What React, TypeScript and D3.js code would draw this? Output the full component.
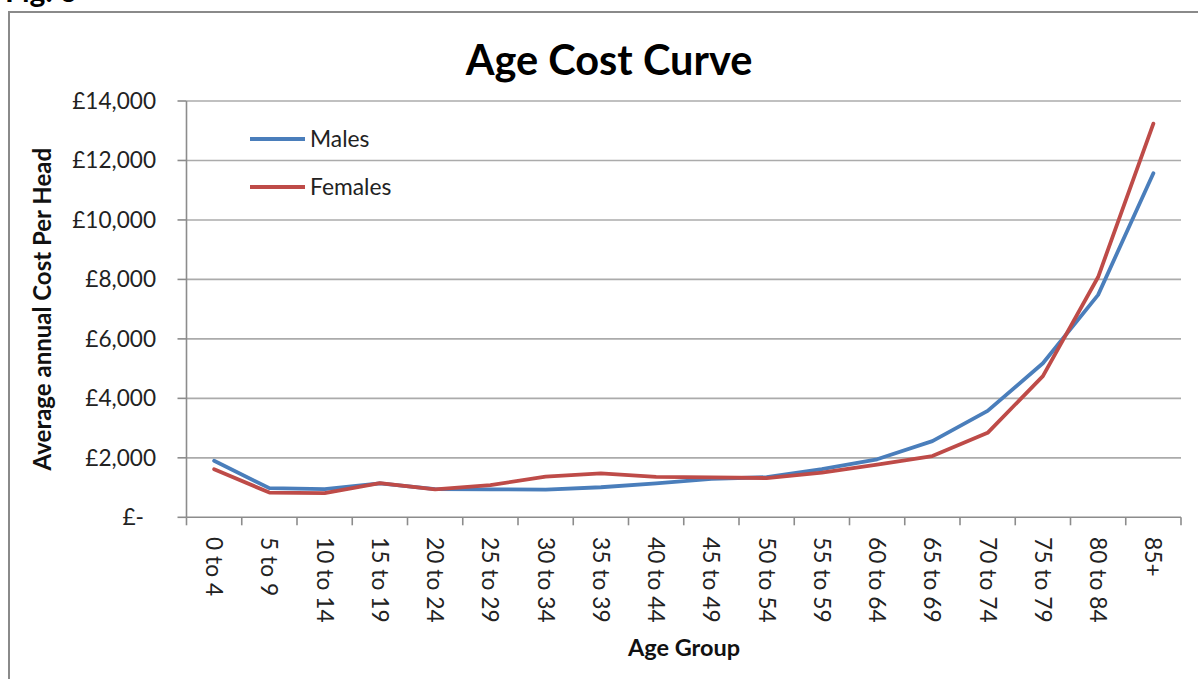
import React from "react";
import * as d3 from "d3";

// Age bands along the category axis
const ageGroups = [
  "0 to 4", "5 to 9", "10 to 14", "15 to 19", "20 to 24", "25 to 29",
  "30 to 34", "35 to 39", "40 to 44", "45 to 49", "50 to 54", "55 to 59",
  "60 to 64", "65 to 69", "70 to 74", "75 to 79", "80 to 84", "85+",
];

// Average annual cost per head (£)
const males = [
  1900, 980, 950, 1140, 950, 940, 930, 1010, 1140, 1290, 1350, 1620,
  1950, 2560, 3580, 5180, 7480, 11570,
];
const females = [
  1620, 830, 810, 1150, 940, 1080, 1370, 1480, 1360, 1340, 1320, 1500,
  1770, 2060, 2840, 4750, 8080, 13240,
];

const yTicks = [0, 2000, 4000, 6000, 8000, 10000, 12000, 14000];

const seriesList = [
  { name: "Males", values: males, color: "#4a7ebb" },
  { name: "Females", values: females, color: "#be4b48" },
];

const W = 1198;
const H = 679;
const plot = { left: 186.5, right: 1181, top: 101, bottom: 517.3 };
const FONT = "Lato, 'Open Sans', sans-serif";

export default function App() {
  const x = d3
    .scaleBand<string>()
    .domain(ageGroups)
    .range([plot.left, plot.right])
    .paddingInner(0)
    .paddingOuter(0);
  const y = d3.scaleLinear().domain([0, 14000]).range([plot.bottom, plot.top]);
  const cx = (c: string) => (x(c) as number) + x.bandwidth() / 2;

  const line = d3
    .line<number>()
    .x((_, i) => cx(ageGroups[i]))
    .y((v) => y(v))
    .curve(d3.curveLinear);

  const fmt = d3.format(",");
  const tickBoundaries = ageGroups.map((c) => x(c) as number).concat([plot.right]);

  return (
    <svg
      width={W}
      height={H}
      style={{ position: "absolute", left: 0, top: 0, background: "#fff" }}
      fontFamily={FONT}
    >
      <rect x={0} y={0} width={W} height={H} fill="#fff" />
      {/* figure caption, mostly above the frame */}
      <text x={5} y={2} fontSize={30} fontWeight="bold" fill="#000">
        Fig. 6
      </text>
      {/* chart frame */}
      <rect x={9} y={12} width={1220} height={700} fill="#fff" stroke="#8a8a8a" strokeWidth={2} />

      {/* title */}
      <text x={609} y={75} textAnchor="middle" fontSize={41.5} fontWeight="bold" fill="#000">
        Age Cost Curve
      </text>

      {/* horizontal gridlines */}
      {yTicks.slice(1).map((t) => (
        <line
          key={"g" + t}
          x1={plot.left}
          x2={plot.right}
          y1={y(t)}
          y2={y(t)}
          stroke="#ababab"
          strokeWidth={1.6}
        />
      ))}

      {/* value axis */}
      <line x1={plot.left} x2={plot.left} y1={plot.top} y2={plot.bottom} stroke="#8c8c8c" strokeWidth={1.6} />
      {yTicks.map((t) => (
        <g key={"yt" + t}>
          <line x1={plot.left - 9} x2={plot.left} y1={y(t)} y2={y(t)} stroke="#8c8c8c" strokeWidth={1.6} />
          <text
            x={t === 0 ? 144 : 156}
            y={y(t)}
            dy="0.35em"
            textAnchor="end"
            fontSize={22.6}
            fill="#222"
          >
            {t === 0 ? "£-" : "£" + fmt(t)}
          </text>
        </g>
      ))}

      {/* category axis */}
      <line x1={plot.left} x2={plot.right} y1={plot.bottom} y2={plot.bottom} stroke="#8c8c8c" strokeWidth={1.6} />
      {tickBoundaries.map((bx, i) => (
        <line
          key={"xt" + i}
          x1={bx}
          x2={bx}
          y1={plot.bottom}
          y2={plot.bottom + 8}
          stroke="#8c8c8c"
          strokeWidth={1.6}
        />
      ))}
      {ageGroups.map((c) => (
        <text
          key={"xl" + c}
          transform={`translate(${cx(c)},537) rotate(90)`}
          dy="0.35em"
          textAnchor="start"
          fontSize={22.8}
          fill="#222"
        >
          {c}
        </text>
      ))}

      {/* axis titles */}
      <text x={684} y={656} textAnchor="middle" fontSize={23.5} fontWeight="bold" fill="#111">
        Age Group
      </text>
      <text
        transform={`translate(42.5,${(plot.top + plot.bottom) / 2}) rotate(-90)`}
        dy="0.35em"
        textAnchor="middle"
        fontSize={24}
        fontWeight="bold"
        fill="#111"
      >
        Average annual Cost Per Head
      </text>

      {/* series */}
      {seriesList.map((s) => (
        <path
          key={s.name}
          d={line(s.values) as string}
          fill="none"
          stroke={s.color}
          strokeWidth={3.8}
          strokeLinejoin="round"
          strokeLinecap="round"
        />
      ))}

      {/* legend */}
      {seriesList.map((s, i) => (
        <g key={"lg" + s.name} transform={`translate(0,${139 + i * 48})`}>
          <line x1={250} x2={305} y1={0} y2={0} stroke={s.color} strokeWidth={3.8} />
          <text x={310} y={0} dy="0.35em" fontSize={22.8} fill="#222">
            {s.name}
          </text>
        </g>
      ))}
    </svg>
  );
}
